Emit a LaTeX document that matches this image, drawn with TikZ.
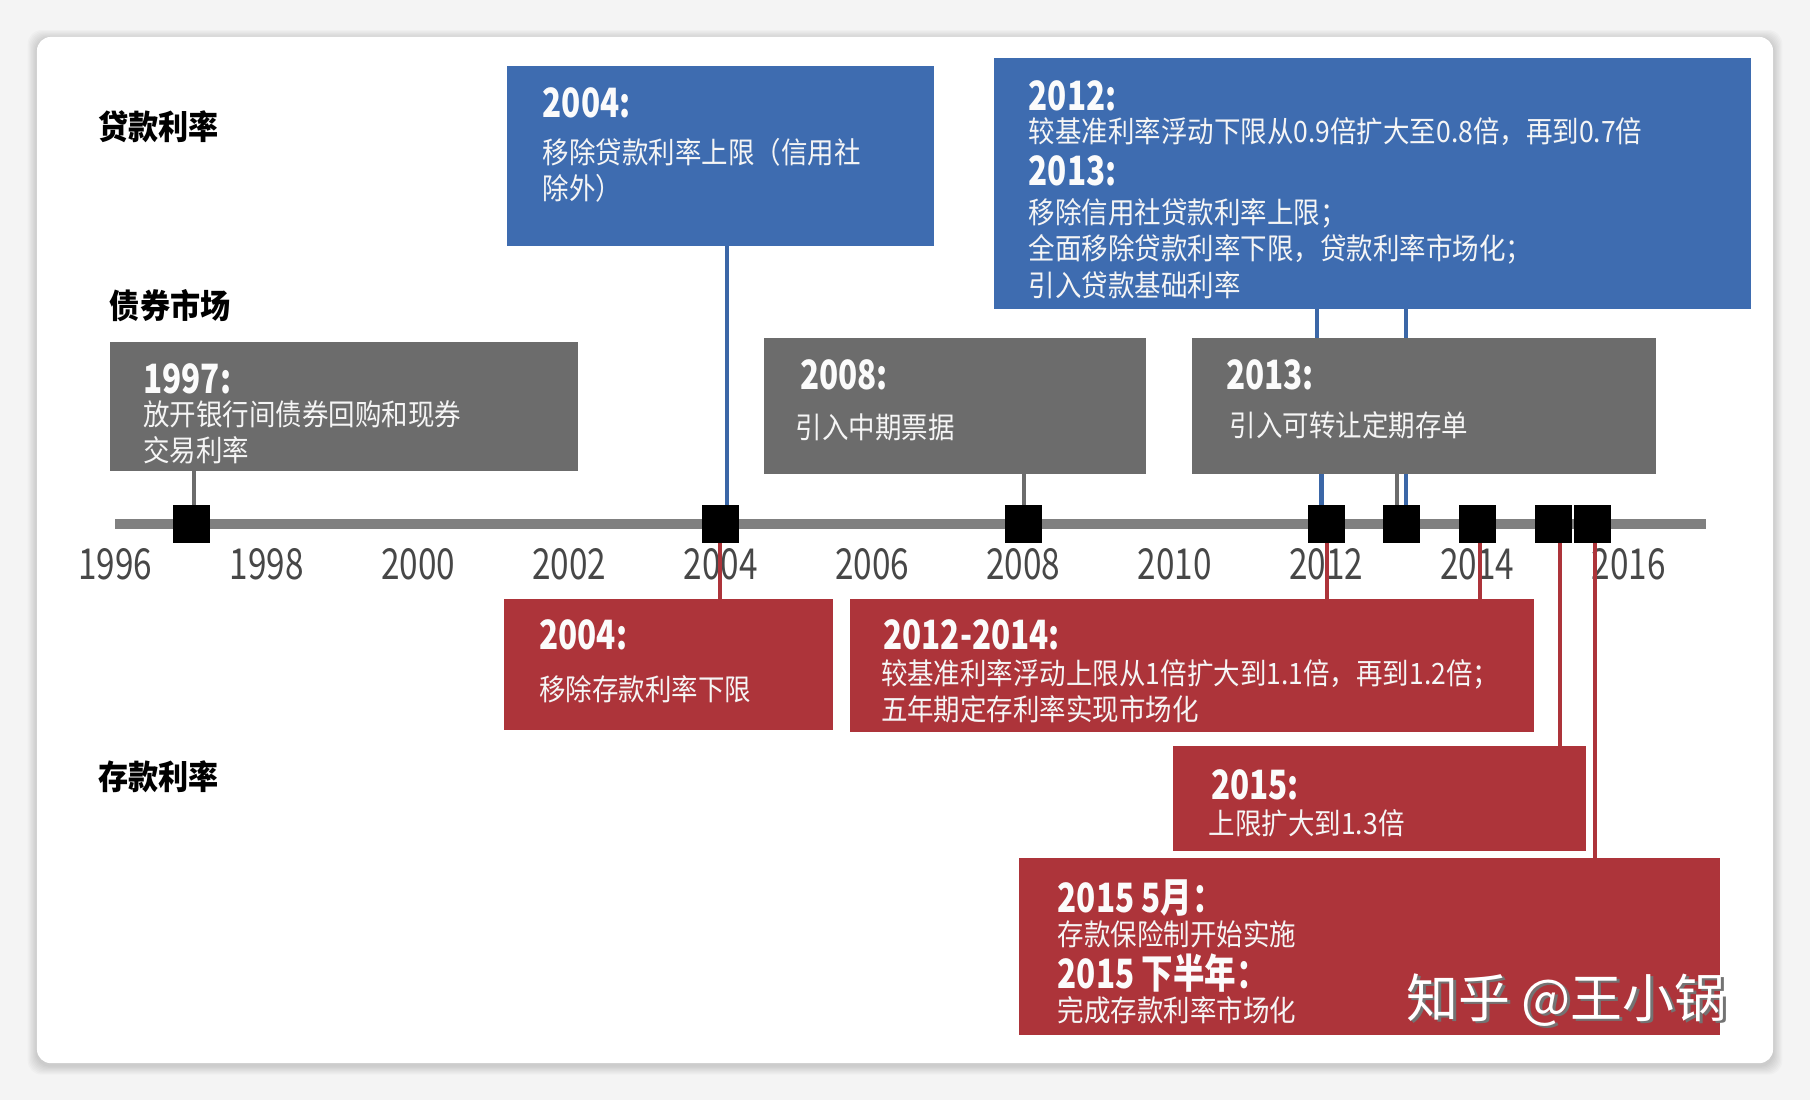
\documentclass[tikz,border=0pt]{standalone}
\usepackage{fontspec}
\setmainfont{Noto Sans CJK SC}
\newfontfamily\cjkfont[FakeStretch=0.9]{Noto Sans CJK SC}
\newfontfamily\numfont[FakeStretch=0.78]{Noto Sans CJK SC}
\newfontfamily\wmfont{Noto Sans CJK SC}

\definecolor{pagebg}{RGB}{244,244,244}
\definecolor{loanblue}{RGB}{62,108,176}
\definecolor{bondgray}{RGB}{108,108,108}
\definecolor{depred}{RGB}{173,52,58}
\definecolor{axisgray}{RGB}{128,128,128}

\tikzset{
  panel/.style={anchor=north west,inner sep=0pt,outer sep=0pt},
  loanbox/.style={panel,fill=loanblue},
  bondbox/.style={panel,fill=bondgray},
  depbox/.style={panel,fill=depred},
  headtxt/.style={anchor=west,inner sep=0pt,text=white!97!gray,
    font=\numfont\bfseries\fontsize{35}{35}\selectfont},
  bodytxt/.style={anchor=west,inner sep=0pt,text=white!92!gray,
    font=\cjkfont\fontsize{25.5}{30}\selectfont},
  sidetxt/.style={anchor=west,inner sep=0pt,text=black,
    font=\cjkfont\bfseries\fontsize{29}{29}\selectfont},
  yeartxt/.style={inner sep=0pt,text=black!72,
    font=\numfont\fontsize{37}{37}\selectfont},
  yearbox/.style={fill=black,minimum width=32pt,minimum height=33pt,inner sep=0pt},
  axisline/.style={axisgray,line width=8pt},
  loanline/.style={loanblue!95!black,line width=3.5pt},
  bondline/.style={bondgray,line width=3.5pt},
  depline/.style={depred,line width=3.5pt},
}

\begin{document}
\begin{tikzpicture}[x=1pt,y=-1pt]
  \useasboundingbox (0,0) rectangle (1568,953);
  % page and card
  \fill[pagebg] (0,0) rectangle (1568,953);
  \foreach \s in {1,...,8}
    \fill[black,opacity=0.02,rounded corners=12pt]
      ({32-\s},{34-\s}) rectangle ({1536+\s},{923+\s});
  \fill[white,rounded corners=12pt] (32,32) rectangle (1536,921);

  % row titles
  \node[sidetxt] (lbloan) at (85,110) {贷款利率};
  \node[sidetxt] (lbbond) at (95,265) {债券市场};
  \node[sidetxt] (lbdep)  at (85,673) {存款利率};

  % event boxes
  \node[loanbox,minimum width=370pt,minimum height=156pt] (loan04)   at (439,57) {};
  \node[loanbox,minimum width=656pt,minimum height=218pt] (loan1213) at (861,50) {};
  \node[bondbox,minimum width=406pt,minimum height=112pt] (bond97)   at (95,296) {};
  \node[bondbox,minimum width=331pt,minimum height=118pt] (bond08)   at (662,293) {};
  \node[bondbox,minimum width=402pt,minimum height=118pt] (bond13)   at (1033,293) {};
  \node[depbox,minimum width=285pt,minimum height=113pt]  (dep04)    at (437,519) {};
  \node[depbox,minimum width=593pt,minimum height=115pt]  (dep1214)  at (736,519) {};
  \node[depbox,minimum width=358pt,minimum height=91pt]   (dep15)    at (1016,646) {};
  \node[depbox,minimum width=607pt,minimum height=154pt]  (dep155)   at (883,743) {};

  % box texts
  \foreach \tx/\ty/\txt [count=\i] in {
      470/89/2004:, 891/83/2012:, 891/148/2013:,
      124/328/1997:, 693/325/2008:, 1062/325/2013:,
      467/550/2004:, 765/550/2012-2014:, 1049/680/2015:,
      916/778/2015 5月：, 916/843/2015 下半年：}
    \node[headtxt] (hd\i) at (\tx,\ty) {\txt};
  \foreach \tx/\ty/\txt [count=\i] in {
      470/132/移除贷款利率上限（信用社, 470/163/除外）,
      891/114/较基准利率浮动下限从0.9倍扩大至0.8倍，再到0.7倍,
      891/185/移除信用社贷款利率上限；,
      891/216/全面移除贷款利率下限，贷款利率市场化；,
      891/247/引入贷款基础利率,
      124/359/放开银行间债券回购和现券, 124/390/交易利率,
      689/370/引入中期票据, 1065/368/引入可转让定期存单,
      467/597/移除存款利率下限,
      763/584/较基准利率浮动上限从1倍扩大到1.1倍，再到1.2倍；,
      763/614/五年期定存利率实现市场化,
      1047/713/上限扩大到1.3倍,
      916/809/存款保险制开始实施, 916/875/完成存款利率市场化}
    \node[bodytxt] (bd\i) at (\tx,\ty) {\txt};

  % time axis
  \coordinate (axL) at (100,454);
  \coordinate (axR) at (1478,454);
  \draw[axisline] (axL) -- (axR);
  \foreach \yr in {1996,1998,...,2016}
    \node[yeartxt] (yl\yr) at ({100+(\yr-1996)*65.55},489) {\yr};
  \foreach \mn/\yr in {97/1997,04/2004,08/2008,12/2012,13/2013,14/2014,15/2015,155/2015.52}
    \node[yearbox] (m\mn) at ({100+(\yr-1996)*65.55},454) {};

  % bond links
  \draw[bondline] ([xshift=2.5pt]m97.north) -- ([xshift=2.5pt]m97.north |- bond97.south);
  \draw[bondline] ([xshift=0.5pt]m08.north) -- ([xshift=0.5pt]m08.north |- bond08.south);
  \draw[bondline] ([xshift=-4.5pt]m13.north) -- ([xshift=-4.5pt]m13.north |- bond13.south);
  % loan links
  \draw[loanline] ([xshift=5pt]m04.north) -- ([xshift=5pt]m04.north |- loan04.south);
  \draw[loanline] ([xshift=-8pt]m12.north |- loan1213.south) -- ([xshift=-8pt]m12.north |- bond13.north);
  \draw[loanline] ([xshift=-4pt]m12.north) -- ([xshift=-4pt]m12.north |- bond13.south);
  \draw[loanline] ([xshift=4pt]m13.north |- loan1213.south) -- ([xshift=4pt]m13.north |- bond13.north);
  \draw[loanline] ([xshift=4pt]m13.north) -- ([xshift=4pt]m13.north |- bond13.south);
  % deposit links
  \draw[depline] ([xshift=-1pt]m04.south) -- ([xshift=-1pt]m04.south |- dep04.north);
  \draw[depline] ([xshift=1pt]m12.south) -- ([xshift=1pt]m12.south |- dep1214.north);
  \draw[depline] ([xshift=2pt]m14.south) -- ([xshift=2pt]m14.south |- dep1214.north);
  \draw[depline] ([xshift=6pt]m15.south) -- ([xshift=6pt]m15.south |- dep15.north);
  \draw[depline] ([xshift=2pt]m155.south) -- ([xshift=2pt]m155.south |- dep155.north);

  % watermark
  \node[anchor=west,inner sep=0pt,text=black!55,font=\wmfont\fontsize{45}{45}\selectfont]
    (wmshade) at (1220.5,868.5) {知乎 @王小锅};
  \node[anchor=west,inner sep=0pt,text=white,font=\wmfont\fontsize{45}{45}\selectfont]
    (wm) at (1218,866) {知乎 @王小锅};
\end{tikzpicture}
\end{document}
